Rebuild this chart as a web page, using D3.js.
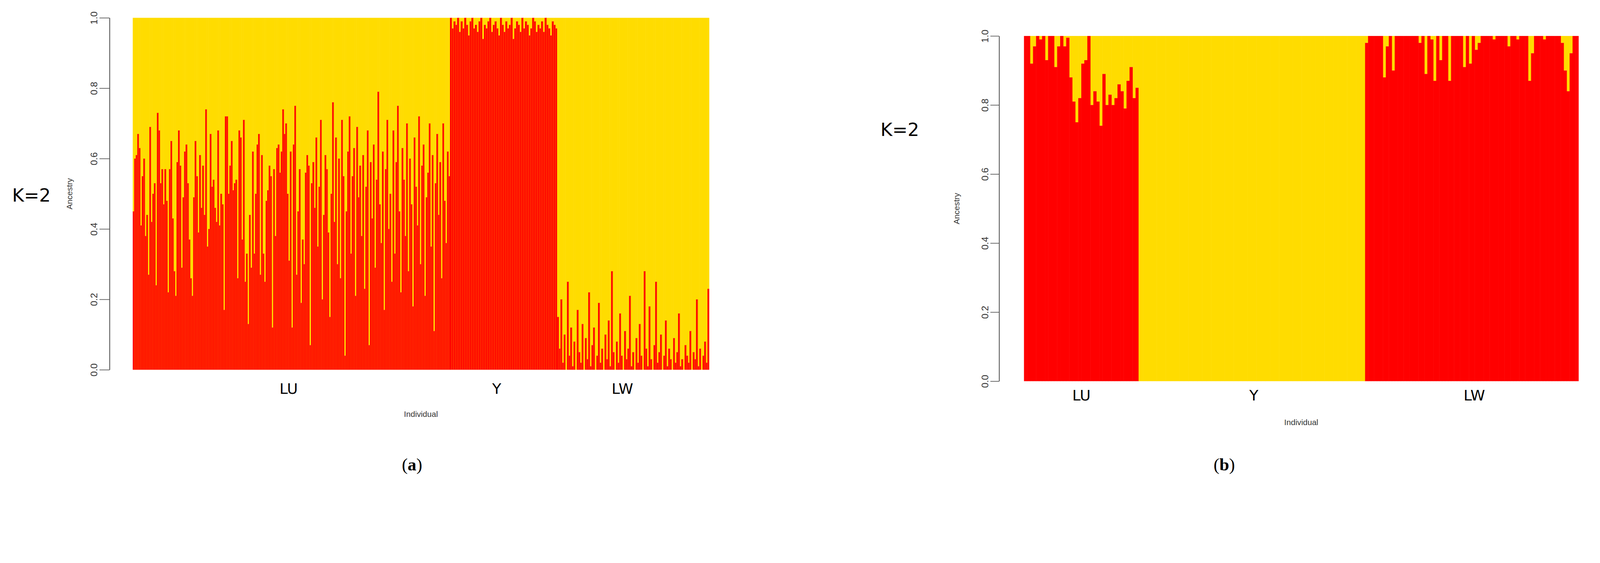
<!DOCTYPE html>
<html><head><meta charset="utf-8">
<script src="https://cdn.jsdelivr.net/npm/d3@7"></script>
<style>html,body{margin:0;padding:0;background:#fff;overflow:hidden}svg{display:block;width:100vw;height:auto}</style></head>
<body><svg id="c" viewBox="0 0 4761 1441" preserveAspectRatio="xMinYMin meet"></svg>
<script>
// Panel (a): red ancestry proportion per individual
const aLU = [0.45,0.60,0.61,0.67,0.63,0.41,0.55,0.60,0.38,0.44,0.27,0.69,0.42,0.50,0.53,0.24,0.73,0.68,0.53,0.57,0.47,0.57,0.48,0.22,0.57,0.65,0.43,0.28,0.21,0.59,0.68,0.58,0.29,0.49,0.62,0.64,0.53,0.37,0.26,0.21,0.49,0.65,0.55,0.39,0.61,0.46,0.58,0.44,0.74,0.35,0.40,0.67,0.52,0.54,0.46,0.42,0.68,0.41,0.50,0.47,0.17,0.72,0.72,0.50,0.58,0.65,0.51,0.53,0.54,0.26,0.68,0.66,0.37,0.71,0.25,0.33,0.13,0.44,0.29,0.62,0.33,0.50,0.64,0.67,0.27,0.61,0.33,0.25,0.48,0.51,0.58,0.55,0.12,0.57,0.38,0.63,0.64,0.56,0.62,0.74,0.67,0.70,0.50,0.31,0.62,0.12,0.64,0.75,0.27,0.45,0.57,0.19,0.37,0.30,0.56,0.61,0.58,0.07,0.53,0.59,0.46,0.66,0.35,0.52,0.71,0.20,0.44,0.61,0.57,0.39,0.15,0.50,0.76,0.42,0.66,0.30,0.60,0.26,0.71,0.55,0.04,0.45,0.62,0.72,0.33,0.55,0.63,0.21,0.69,0.49,0.58,0.38,0.61,0.23,0.52,0.68,0.07,0.59,0.43,0.64,0.29,0.54,0.79,0.47,0.36,0.62,0.17,0.57,0.71,0.40,0.50,0.25,0.68,0.33,0.59,0.75,0.45,0.22,0.63,0.54,0.38,0.70,0.28,0.60,0.47,0.18,0.66,0.52,0.41,0.72,0.30,0.58,0.64,0.21,0.49,0.56,0.70,0.35,0.61,0.11,0.53,0.67,0.44,0.59,0.26,0.70,0.48,0.36,0.62,0.55];
const aY = [1.00,0.97,0.99,0.98,1.00,0.96,0.99,0.97,1.00,0.98,0.95,0.99,1.00,0.97,0.98,0.96,0.99,1.00,0.94,0.98,0.97,0.99,1.00,0.96,0.98,0.99,0.97,0.95,1.00,0.98,0.96,0.99,0.97,0.98,1.00,0.94,0.97,0.99,0.98,0.96,1.00,0.97,0.99,0.98,0.95,0.97,1.00,0.99,0.96,0.98,0.97,0.99,0.96,1.00,0.98,0.97,0.95,0.99,0.98,0.97];
const aLW = [0.15,0.06,0.20,0.02,0.10,0.00,0.25,0.04,0.12,0.01,0.08,0.00,0.17,0.05,0.02,0.13,0.00,0.09,0.03,0.22,0.01,0.07,0.12,0.00,0.04,0.19,0.02,0.06,0.00,0.10,0.03,0.14,0.01,0.28,0.05,0.00,0.08,0.02,0.16,0.04,0.00,0.11,0.03,0.06,0.21,0.01,0.05,0.00,0.09,0.02,0.13,0.04,0.00,0.28,0.06,0.01,0.18,0.03,0.00,0.07,0.25,0.02,0.05,0.10,0.00,0.04,0.14,0.01,0.06,0.03,0.00,0.09,0.02,0.05,0.16,0.01,0.03,0.00,0.07,0.04,0.02,0.11,0.00,0.05,0.03,0.20,0.01,0.06,0.00,0.04,0.08,0.02,0.23];
// Panel (b)
const bLU = [1.00,1.00,0.92,0.97,1.00,0.99,1.00,0.93,1.00,1.00,0.91,0.97,1.00,0.97,0.995,0.88,0.81,0.75,0.82,0.92,0.93,1.00,0.80,0.84,0.81,0.74,0.89,0.80,0.83,0.80,0.82,0.86,0.84,0.79,0.87,0.91,0.82,0.85];
const bY = new Array(50).fill(0);
const bLW = [0.98,1.00,1.00,1.00,1.00,1.00,0.88,0.97,1.00,0.90,1.00,1.00,1.00,1.00,1.00,1.00,1.00,1.00,0.98,1.00,0.89,1.00,0.99,0.87,1.00,0.93,1.00,1.00,0.87,1.00,1.00,1.00,1.00,0.91,1.00,0.92,1.00,0.96,0.98,1.00,1.00,1.00,1.00,0.99,1.00,1.00,1.00,1.00,0.97,1.00,1.00,0.99,1.00,1.00,1.00,0.87,0.95,1.00,1.00,1.00,0.99,1.00,1.00,1.00,1.00,1.00,0.98,0.90,0.84,0.95,1.00,1.00];
const groups = ["LU","Y","LW"];
const yTicks = [0,0.2,0.4,0.6,0.8,1.0];
const RED="#ff0000", YEL="#ffdc00";
const svg = d3.select("#c");

function panel(cfg){
  const g = svg.append("g");
  const y = d3.scaleLinear().domain([0,1]).range([cfg.y1,cfg.y0]);
  cfg.sets.forEach((vals,gi)=>{
    const [xa,xb] = cfg.gx[gi];
    const x = d3.scaleBand().domain(d3.range(vals.length)).range([xa,xb]).paddingInner(0);
    const bw = x.bandwidth();
    g.append("g").selectAll("rect").data(vals).join("rect")
      .attr("x",(d,i)=>x(i)).attr("width",bw+0.6).attr("y",cfg.y0).attr("height",d=>y(d)-cfg.y0).attr("fill",YEL);
    g.append("g").selectAll("rect").data(vals).join("rect")
      .attr("x",(d,i)=>x(i)).attr("width",bw+0.6).attr("y",d=>y(d)).attr("height",d=>cfg.y1-y(d)).attr("fill",RED);
    if(cfg.edge) g.append("g").selectAll("line").data(vals).join("line")
      .attr("x1",(d,i)=>x(i)+bw).attr("x2",(d,i)=>x(i)+bw).attr("y1",d=>y(d)).attr("y2",cfg.y1)
      .attr("stroke","#ff7a00").attr("stroke-width",1.5).attr("opacity",0.7);
    g.append("text").attr("x",cfg.lx[gi]).attr("y",cfg.ly).attr("text-anchor","middle")
      .attr("font-family","DejaVu Sans").attr("font-size",44).text(groups[gi]);
  });
  const ax = g.append("g").attr("transform",`translate(${cfg.ax},0)`)
    .call(d3.axisLeft(y).tickValues(yTicks).tickFormat(d3.format(".1f")).tickSize(cfg.ts).tickSizeOuter(0));
  ax.select(".domain").attr("stroke","#555").attr("stroke-width",2.5);
  ax.selectAll(".tick line").attr("stroke","#555").attr("stroke-width",2);
  ax.selectAll(".tick text").attr("font-family","Liberation Sans Narrow, Liberation Sans").attr("font-size",28).attr("fill","#333")
    .attr("transform",`rotate(-90) translate(0,${-cfg.ts-4})`).attr("x",0).attr("dy","-0.1em").attr("text-anchor","middle");
  g.append("text").attr("transform",`translate(${cfg.anx},${(cfg.y0+cfg.y1)/2}) rotate(-90)`).attr("text-anchor","middle")
    .attr("font-family","Liberation Sans Narrow, Liberation Sans").attr("font-size",24).attr("fill","#333").text("Ancestry");
  g.append("text").attr("x",(cfg.gx[0][0]+cfg.gx[2][1])/2).attr("y",cfg.iy).attr("text-anchor","middle")
    .attr("font-family","Liberation Sans").attr("font-size",24).attr("fill","#333").text("Individual");
  g.append("text").attr("x",cfg.kx).attr("y",cfg.ky).attr("font-family","DejaVu Sans").attr("font-size",54).text("K=2");
  const lab = g.append("text").attr("x",cfg.capx).attr("y",1400).attr("text-anchor","middle")
    .attr("font-family","Liberation Serif").attr("font-size",52);
  lab.append("tspan").text("(");
  lab.append("tspan").attr("font-weight","bold").text(cfg.cap);
  lab.append("tspan").text(")");
}
panel({sets:[aLU,aY,aLW],gx:[[395,1339],[1339,1658],[1658,2110]],y0:53,y1:1100,ax:326,ts:30,
  lx:[859,1478,1852],ly:1172,iy:1240,anx:215,kx:36,ky:600,capx:1226,cap:"a",edge:true});
panel({sets:[bLU,bY,bLW],gx:[[3047,3388],[3388,4062],[4062,4697]],y0:107,y1:1134,ax:2973,ts:26,
  lx:[3218,3731,4387],ly:1192,iy:1265,anx:2855,kx:2620,ky:405,capx:3643,cap:"b",edge:false});
</script></body></html>
